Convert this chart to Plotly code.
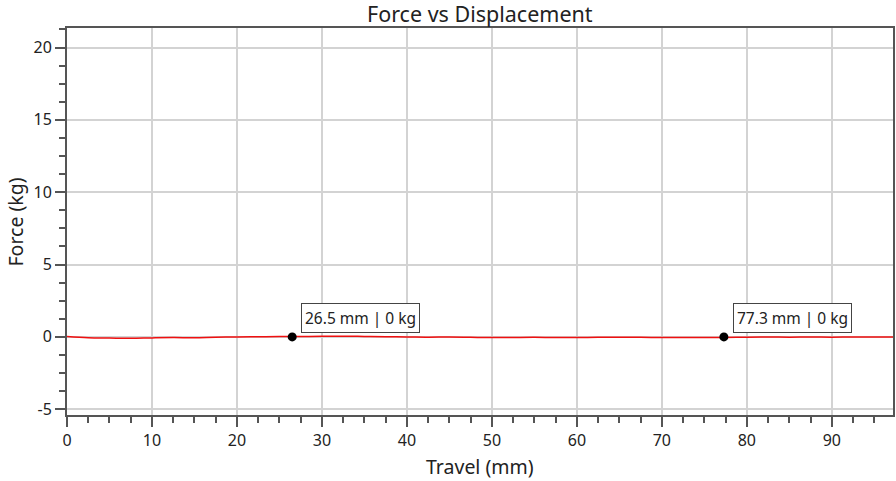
import plotly.graph_objects as go

# Data
travel_mm = [0, 2.5, 5, 7.5, 10, 12.5, 15, 17.5, 20, 22.5, 25, 26.5, 30, 32.5, 35, 37.5, 40, 42.5, 45,
             47.5, 50, 52.5, 55, 57.5, 60, 62.5, 65, 67.5, 70, 72.5, 75, 77.3, 80, 82.5, 85, 87.5, 90, 92.5, 95, 97.2]
force_kg = [0.03, -0.06, -0.08, -0.1, -0.07, -0.05, -0.06, -0.02, 0.0, 0.01, 0.02, 0.02, 0.04, 0.05, 0.03, 0.01,
            0.0, -0.02, -0.01, -0.03, -0.05, -0.04, -0.03, -0.05, -0.04, -0.03, -0.02, -0.03, -0.04, -0.05, -0.05, -0.04,
            -0.02, -0.01, -0.02, -0.01, -0.02, -0.01, -0.01, -0.01]
marker_x = [26.5, 77.3]
marker_y = [0, 0]
marker_labels = ["26.5 mm | 0 kg", "77.3 mm | 0 kg"]
y_ticks = [-5, 0, 5, 10, 15, 20]
y_ticktext = ["-5", "0", "5", "10", "15", "20"]
x_ticks = [0, 10, 20, 30, 40, 50, 60, 70, 80, 90]
title_text = "Force vs Displacement"
x_title = "Travel (mm)"
y_title = "Force (kg)"

FONT = "Noto Sans, Open Sans, sans-serif"
TXT = "#222222"
AXIS = "#555555"
GRID = "#d3d3d3"
W, H = 896, 481
ML, MR, MT, MB = 67, 3, 28, 66

fig = go.Figure()
fig.add_trace(go.Scatter(x=travel_mm, y=force_kg, mode="lines",
                         line=dict(color="#f01010", width=1.5, shape="spline"),
                         hoverinfo="skip", showlegend=False))
fig.add_trace(go.Scatter(x=marker_x, y=marker_y, mode="markers",
                         marker=dict(color="black", size=9),
                         showlegend=False))

for mx, my, lab in zip(marker_x, marker_y, marker_labels):
    fig.add_annotation(x=mx, y=my, xref="x", yref="y", text=lab, showarrow=False,
                       xanchor="left", yanchor="bottom", xshift=9, yshift=4,
                       font=dict(family=FONT, size=15.5, color=TXT),
                       bgcolor="white", bordercolor="#444444", borderwidth=1, borderpad=3)

# title and axis titles placed in paper coordinates
plot_h = H - MT - MB
plot_w = W - ML - MR
fig.add_annotation(text=title_text, xref="paper", yref="paper", x=0.5, y=1 + (MT - 13.5) / plot_h,
                   xanchor="center", yanchor="middle", showarrow=False,
                   font=dict(family=FONT, size=21.5, color=TXT))
fig.add_annotation(text=x_title, xref="paper", yref="paper", x=0.5, y=-(466 - (H - MB)) / plot_h,
                   xanchor="center", yanchor="middle", showarrow=False,
                   font=dict(family=FONT, size=19.5, color=TXT))
fig.add_annotation(text=y_title, xref="paper", yref="paper", x=-(ML - 15) / plot_w, y=0.5,
                   xanchor="center", yanchor="middle", showarrow=False, textangle=-90,
                   font=dict(family=FONT, size=19.5, color=TXT))

fig.update_layout(
    width=W, height=H,
    margin=dict(l=ML, r=MR, t=MT, b=MB, autoexpand=False),
    paper_bgcolor="white", plot_bgcolor="white",
    font=dict(family=FONT, size=16, color=TXT),
)

fig.update_xaxes(
    range=[0, 97.2], tickvals=x_ticks, showgrid=True, gridcolor=GRID, gridwidth=1.5,
    showline=True, linecolor=AXIS, linewidth=2, mirror=True,
    ticks="outside", ticklen=10, tickwidth=1.5, tickcolor=AXIS,
    minor=dict(dtick=2.5, tick0=0, ticks="outside", ticklen=6, tickwidth=1.5, tickcolor=AXIS, showgrid=False),
    zeroline=False, automargin=False,
    tickfont=dict(family=FONT, size=16, color=TXT),
)
fig.update_yaxes(
    range=[-5.4, 21.35], tickvals=y_ticks, ticktext=y_ticktext, showgrid=True, gridcolor=GRID, gridwidth=1.5,
    showline=True, linecolor=AXIS, linewidth=2, mirror=True,
    ticks="outside", ticklen=10, tickwidth=1.5, tickcolor=AXIS,
    minor=dict(dtick=1.25, tick0=0, ticks="outside", ticklen=6, tickwidth=1.5, tickcolor=AXIS, showgrid=False),
    zeroline=False, automargin=False,
    tickfont=dict(family=FONT, size=16, color=TXT),
)

fig.write_html("out.html", config={"displayModeBar": False},
               post_script="document.body.style.margin='0';document.body.style.overflow='hidden';")
